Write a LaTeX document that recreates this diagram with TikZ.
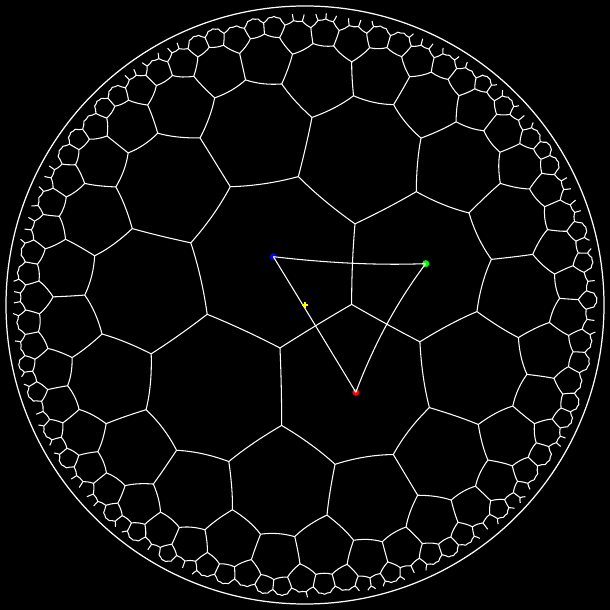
\documentclass[tikz,border=0pt]{standalone}
\usetikzlibrary{positioning}
\definecolor{dotblue}{RGB}{0,0,255}
\definecolor{dotgreen}{RGB}{0,255,0}
\definecolor{dotred}{RGB}{255,0,0}
\definecolor{crossyellow}{RGB}{255,255,0}

\ExplSyntaxOn
% {7,3} tiling in the Poincare disk, seen from the blue cell
\fp_const:Nn \c_hep_cv_fp { cot(pi/7) * cot(pi/3) }
\fp_const:Nn \c_hep_cm_fp { cos(pi/3) / sin(pi/7) }
\fp_const:Nn \c_hep_ev_fp { \c_hep_cv_fp + sqrt(\c_hep_cv_fp^2 - 1) }
\fp_const:Nn \c_hep_em_fp { \c_hep_cm_fp + sqrt(\c_hep_cm_fp^2 - 1) }
\fp_const:Nn \c_hep_tv_fp { (\c_hep_ev_fp - 1) / (\c_hep_ev_fp + 1) }
\fp_const:Nn \c_hep_tm_fp { (\c_hep_em_fp - 1) / (\c_hep_em_fp + 1) }
\fp_const:Nn \c_hep_tc_fp { 2 * \c_hep_tm_fp / (1 + \c_hep_tm_fp^2) }
\fp_const:Nn \c_hep_C_fp { (1 + \c_hep_tm_fp^2) / (1 - \c_hep_tm_fp^2) }
\fp_const:Nn \c_hep_phi_fp { -7.07 }
\fp_const:Nn \c_hep_bx_fp { -0.1056 }
\fp_const:Nn \c_hep_by_fp { 0.1611 }
\fp_const:Nn \c_hep_rho_fp { 0.975 }
\fp_const:Nn \c_hep_rc_fp { 0.985 }
\fp_const:Nn \c_hep_sc_fp { 3 }
% centre of the far side of the triangle of centres
\fp_const:Nn \c_hep_R_fp { ln(\c_hep_ev_fp) }
\fp_const:Nn \c_hep_u_fp { (\c_hep_ev_fp^2 - 1) / (\c_hep_ev_fp^2 + 1) / 2 }
\fp_const:Nn \c_hep_Rx_fp { \c_hep_R_fp + 0.5 * ln((1 + \c_hep_u_fp) / (1 - \c_hep_u_fp)) }
\fp_const:Nn \c_hep_ts_fp { (exp(\c_hep_Rx_fp) - 1) / (exp(\c_hep_Rx_fp) + 1) }

\int_step_inline:nnn { 0 } { 6 }
  {
    \fp_const:cn { c_hep_vx_#1_fp } { \c_hep_tv_fp * cosd(\c_hep_phi_fp + (#1 - 0.5) * 360 / 7) }
    \fp_const:cn { c_hep_vy_#1_fp } { \c_hep_tv_fp * sind(\c_hep_phi_fp + (#1 - 0.5) * 360 / 7) }
    \fp_const:cn { c_hep_mx_#1_fp } { \c_hep_tm_fp * cosd(\c_hep_phi_fp + #1 * 360 / 7) }
    \fp_const:cn { c_hep_my_#1_fp } { \c_hep_tm_fp * sind(\c_hep_phi_fp + #1 * 360 / 7) }
    \fp_const:cn { c_hep_dr_#1_fp } { 2 * \c_hep_tm_fp * sind(\c_hep_phi_fp + #1 * 360 / 7) / (1 - \c_hep_tm_fp^2) }
    \fp_const:cn { c_hep_di_#1_fp } { -2 * \c_hep_tm_fp * cosd(\c_hep_phi_fp + #1 * 360 / 7) / (1 - \c_hep_tm_fp^2) }
    \fp_new:c { l_hep_x_#1_fp }
    \fp_new:c { l_hep_y_#1_fp }
    \tl_new:c { l_hep_in_#1_tl }
  }

\fp_new:N \l_hep_ar_fp \fp_new:N \l_hep_ai_fp
\fp_new:N \l_hep_br_fp \fp_new:N \l_hep_bi_fp
\fp_new:N \l_hep_nr_fp \fp_new:N \l_hep_ni_fp
\fp_new:N \l_hep_dr_fp \fp_new:N \l_hep_di_fp
\fp_new:N \l_hep_dd_fp
\fp_new:N \l_hep_px_fp \fp_new:N \l_hep_py_fp
\fp_new:N \l_hep_car_fp \fp_new:N \l_hep_cai_fp
\fp_new:N \l_hep_cbr_fp \fp_new:N \l_hep_cbi_fp
\fp_new:N \l_hep_cn_fp
\fp_new:N \l_hep_cx_fp \fp_new:N \l_hep_cy_fp
\fp_new:N \l_hep_s_fp
\fp_new:N \l_hep_ux_fp \fp_new:N \l_hep_uy_fp
\fp_new:N \l_hep_wx_fp \fp_new:N \l_hep_wy_fp
\tl_new:N \l_hep_path_tl
\tl_new:N \l_hep_key_tl
\tl_new:N \l_hep_item_tl
\seq_new:N \g_hep_queue_seq

\cs_new:Npn \hep_num:n #1 { \fp_to_decimal:n { round(\c_hep_sc_fp * (#1), 4) } }

% z -> (a z + b) / (conj(b) z + conj(a))
\cs_new_protected:Npn \hep_map:nn #1#2
  {
    \fp_set:Nn \l_hep_nr_fp { \l_hep_ar_fp * (#1) - \l_hep_ai_fp * (#2) + \l_hep_br_fp }
    \fp_set:Nn \l_hep_ni_fp { \l_hep_ar_fp * (#2) + \l_hep_ai_fp * (#1) + \l_hep_bi_fp }
    \fp_set:Nn \l_hep_dr_fp { \l_hep_br_fp * (#1) + \l_hep_bi_fp * (#2) + \l_hep_ar_fp }
    \fp_set:Nn \l_hep_di_fp { \l_hep_br_fp * (#2) - \l_hep_bi_fp * (#1) - \l_hep_ai_fp }
    \fp_set:Nn \l_hep_dd_fp { \l_hep_dr_fp^2 + \l_hep_di_fp^2 }
    \fp_set:Nn \l_hep_px_fp { (\l_hep_nr_fp * \l_hep_dr_fp + \l_hep_ni_fp * \l_hep_di_fp) / \l_hep_dd_fp }
    \fp_set:Nn \l_hep_py_fp { (\l_hep_ni_fp * \l_hep_dr_fp - \l_hep_nr_fp * \l_hep_di_fp) / \l_hep_dd_fp }
  }

\cs_new_protected:Npn \hep_draw:n #1 { \draw[tile] #1 ; }

\cs_new_protected:Npn \hep_edge:nn #1#2
  {
    \int_compare:nNnT { \tl_use:c { l_hep_in_#1_tl } + \tl_use:c { l_hep_in_#2_tl } } = { 2 }
      {
        \hep_map:nn { \use:c { c_hep_mx_#1_fp } } { \use:c { c_hep_my_#1_fp } }
        \tl_put_right:Nx \l_hep_path_tl
          {
            ( \hep_num:n { \use:c { l_hep_x_#1_fp } } , \hep_num:n { \use:c { l_hep_y_#1_fp } } )
            ~..~controls~
            ( \hep_num:n { (4 * \l_hep_px_fp - \use:c { l_hep_x_#2_fp }) / 3 } ,
              \hep_num:n { (4 * \l_hep_py_fp - \use:c { l_hep_y_#2_fp }) / 3 } )
            ~and~
            ( \hep_num:n { (4 * \l_hep_px_fp - \use:c { l_hep_x_#1_fp }) / 3 } ,
              \hep_num:n { (4 * \l_hep_py_fp - \use:c { l_hep_y_#1_fp }) / 3 } )
            ~..~
            ( \hep_num:n { \use:c { l_hep_x_#2_fp } } , \hep_num:n { \use:c { l_hep_y_#2_fp } } ) ~
          }
      }
  }

% neighbour across edge #1 : T o (half turn about edge midpoint)
\cs_new_protected:Npn \hep_child:n #1
  {
    \fp_set:Nn \l_hep_car_fp { - \c_hep_C_fp * \l_hep_ai_fp + \l_hep_br_fp * \use:c { c_hep_dr_#1_fp } + \l_hep_bi_fp * \use:c { c_hep_di_#1_fp } }
    \fp_set:Nn \l_hep_cai_fp { \c_hep_C_fp * \l_hep_ar_fp + \l_hep_bi_fp * \use:c { c_hep_dr_#1_fp } - \l_hep_br_fp * \use:c { c_hep_di_#1_fp } }
    \fp_set:Nn \l_hep_cbr_fp { \l_hep_ar_fp * \use:c { c_hep_dr_#1_fp } - \l_hep_ai_fp * \use:c { c_hep_di_#1_fp } + \c_hep_C_fp * \l_hep_bi_fp }
    \fp_set:Nn \l_hep_cbi_fp { \l_hep_ar_fp * \use:c { c_hep_di_#1_fp } + \l_hep_ai_fp * \use:c { c_hep_dr_#1_fp } - \c_hep_C_fp * \l_hep_br_fp }
    \fp_set:Nn \l_hep_cn_fp { \l_hep_car_fp^2 + \l_hep_cai_fp^2 }
    \fp_set:Nn \l_hep_cx_fp { (\l_hep_cbr_fp * \l_hep_car_fp - \l_hep_cbi_fp * \l_hep_cai_fp) / \l_hep_cn_fp }
    \fp_set:Nn \l_hep_cy_fp { (\l_hep_cbr_fp * \l_hep_cai_fp + \l_hep_cbi_fp * \l_hep_car_fp) / \l_hep_cn_fp }
    \tl_set:Nx \l_hep_key_tl
      { \fp_to_decimal:n { round(\l_hep_cx_fp, 5) } / \fp_to_decimal:n { round(\l_hep_cy_fp, 5) } }
    \cs_if_exist:cF { hep@d@ \l_hep_key_tl }
      {
        \hep_edge:nn { #1 } { \int_eval:n { \int_mod:nn { #1 + 1 } { 7 } } }
        \cs_if_exist:cF { hep@s@ \l_hep_key_tl }
          {
            \fp_compare:nNnT { \l_hep_cx_fp^2 + \l_hep_cy_fp^2 } < { \c_hep_rc_fp^2 }
              {
                \cs_gset:cpn { hep@s@ \l_hep_key_tl } { }
                \seq_gput_right:Nx \g_hep_queue_seq
                  {
                    { \fp_use:N \l_hep_car_fp } { \fp_use:N \l_hep_cai_fp }
                    { \fp_use:N \l_hep_cbr_fp } { \fp_use:N \l_hep_cbi_fp }
                    { \l_hep_key_tl }
                  }
              }
          }
      }
  }

\cs_new_protected:Npn \hep_cell:nnnnn #1#2#3#4#5
  {
    \fp_set:Nn \l_hep_ar_fp { #1 }
    \fp_set:Nn \l_hep_ai_fp { #2 }
    \fp_set:Nn \l_hep_br_fp { #3 }
    \fp_set:Nn \l_hep_bi_fp { #4 }
    \cs_gset:cpn { hep@d@#5 } { }
    \int_step_inline:nnn { 0 } { 6 }
      {
        \hep_map:nn { \use:c { c_hep_vx_##1_fp } } { \use:c { c_hep_vy_##1_fp } }
        \fp_set_eq:cN { l_hep_x_##1_fp } \l_hep_px_fp
        \fp_set_eq:cN { l_hep_y_##1_fp } \l_hep_py_fp
        \fp_compare:nNnTF { \l_hep_px_fp^2 + \l_hep_py_fp^2 } < { \c_hep_rho_fp^2 }
          { \tl_set:cn { l_hep_in_##1_tl } { 1 } }
          { \tl_set:cn { l_hep_in_##1_tl } { 0 } }
      }
    \tl_clear:N \l_hep_path_tl
    \int_step_inline:nnn { 0 } { 6 } { \hep_child:n { ##1 } }
    \tl_if_empty:NF \l_hep_path_tl { \exp_args:NV \hep_draw:n \l_hep_path_tl }
  }

\cs_new_protected:Npn \hep_loop:
  {
    \seq_if_empty:NF \g_hep_queue_seq
      {
        \seq_gpop_left:NN \g_hep_queue_seq \l_hep_item_tl
        \exp_after:wN \hep_cell:nnnnn \l_hep_item_tl
        \hep_loop:
      }
  }

\cs_new_protected:Npn \hep_start:
  {
    \fp_set:Nn \l_hep_s_fp { 1 / sqrt(1 - \c_hep_bx_fp^2 - \c_hep_by_fp^2) }
    \fp_set:Nn \l_hep_ar_fp { \l_hep_s_fp }
    \fp_set:Nn \l_hep_ai_fp { 0 }
    \fp_set:Nn \l_hep_br_fp { \c_hep_bx_fp * \l_hep_s_fp }
    \fp_set:Nn \l_hep_bi_fp { \c_hep_by_fp * \l_hep_s_fp }
  }

\cs_new_protected:Npn \hep_tiling:
  {
    \hep_start:
    \seq_gclear:N \g_hep_queue_seq
    \tl_set:Nx \l_hep_key_tl
      { \fp_to_decimal:n { round(\c_hep_bx_fp, 5) } / \fp_to_decimal:n { round(\c_hep_by_fp, 5) } }
    \cs_gset:cpn { hep@s@ \l_hep_key_tl } { }
    \seq_gput_right:Nx \g_hep_queue_seq
      {
        { \fp_use:N \l_hep_ar_fp } { 0 } { \fp_use:N \l_hep_br_fp } { \fp_use:N \l_hep_bi_fp }
        { \l_hep_key_tl }
      }
    \hep_loop:
  }

\cs_new_protected:Npn \hep_point:nnn #1#2#3
  {
    \hep_map:nn { #2 } { #3 }
    \use:x
      {
        \exp_not:N \coordinate ~ (#1) ~ at ~
        ( \hep_num:n { \l_hep_px_fp } , \hep_num:n { \l_hep_py_fp } ) ;
      }
  }

% control points #1a, #1b of the geodesic from (#2,#3) to (#4,#5) through (#6,#7)
\cs_new_protected:Npn \hep_geo:nnnnnnn #1#2#3#4#5#6#7
  {
    \hep_map:nn { #2 } { #3 }
    \fp_set_eq:NN \l_hep_ux_fp \l_hep_px_fp
    \fp_set_eq:NN \l_hep_uy_fp \l_hep_py_fp
    \hep_map:nn { #4 } { #5 }
    \fp_set_eq:NN \l_hep_wx_fp \l_hep_px_fp
    \fp_set_eq:NN \l_hep_wy_fp \l_hep_py_fp
    \hep_map:nn { #6 } { #7 }
    \use:x
      {
        \exp_not:N \coordinate ~ (#1a) ~ at ~
        ( \hep_num:n { (4 * \l_hep_px_fp - \l_hep_wx_fp) / 3 } ,
          \hep_num:n { (4 * \l_hep_py_fp - \l_hep_wy_fp) / 3 } ) ;
        \exp_not:N \coordinate ~ (#1b) ~ at ~
        ( \hep_num:n { (4 * \l_hep_px_fp - \l_hep_ux_fp) / 3 } ,
          \hep_num:n { (4 * \l_hep_py_fp - \l_hep_uy_fp) / 3 } ) ;
      }
  }

\cs_new_protected:Npn \hep_triangle:
  {
    \hep_start:
    \hep_point:nnn { pb } { 0 } { 0 }
    \hep_point:nnn { pg } { \c_hep_tc_fp * cosd(\c_hep_phi_fp) } { \c_hep_tc_fp * sind(\c_hep_phi_fp) }
    \hep_point:nnn { pr } { \c_hep_tc_fp * cosd(\c_hep_phi_fp - 360/7) } { \c_hep_tc_fp * sind(\c_hep_phi_fp - 360/7) }
    \hep_geo:nnnnnnn { bg } { 0 } { 0 }
      { \c_hep_tc_fp * cosd(\c_hep_phi_fp) } { \c_hep_tc_fp * sind(\c_hep_phi_fp) }
      { \c_hep_tm_fp * cosd(\c_hep_phi_fp) } { \c_hep_tm_fp * sind(\c_hep_phi_fp) }
    \hep_geo:nnnnnnn { gr }
      { \c_hep_tc_fp * cosd(\c_hep_phi_fp) } { \c_hep_tc_fp * sind(\c_hep_phi_fp) }
      { \c_hep_tc_fp * cosd(\c_hep_phi_fp - 360/7) } { \c_hep_tc_fp * sind(\c_hep_phi_fp - 360/7) }
      { \c_hep_ts_fp * cosd(\c_hep_phi_fp - 180/7) } { \c_hep_ts_fp * sind(\c_hep_phi_fp - 180/7) }
    \hep_geo:nnnnnnn { rb }
      { \c_hep_tc_fp * cosd(\c_hep_phi_fp - 360/7) } { \c_hep_tc_fp * sind(\c_hep_phi_fp - 360/7) }
      { 0 } { 0 }
      { \c_hep_tm_fp * cosd(\c_hep_phi_fp - 360/7) } { \c_hep_tm_fp * sind(\c_hep_phi_fp - 360/7) }
  }

\cs_new_eq:NN \hepTiling \hep_tiling:
\cs_new_eq:NN \hepTriangle \hep_triangle:
\ExplSyntaxOff

\begin{document}
\begin{tikzpicture}[
  tile/.style={draw=white, line width=0.3pt},
  rim/.style={draw=white, line width=0.35pt},
  tri/.style={draw=white, line width=0.3pt},
  dot/.style={circle, inner sep=0pt, minimum size=0.07cm},
  crosshair/.style={draw=crossyellow, line width=0.35pt}
]
  \fill[black] (-3.05,-3.05) rectangle (3.05,3.05);
  \draw[rim] (0,0) circle[radius=2.99];
  \hepTiling
  \hepTriangle
  \node[dot, fill=dotblue] (blue) at (pb) {};
  \node[dot, fill=dotgreen] (green) at (pg) {};
  \node[dot, fill=dotred] (red) at (pr) {};
  \draw[tri] (blue.center) .. controls (bga) and (bgb) .. (green.center);
  \draw[tri] (green.center) .. controls (gra) and (grb) .. (red.center);
  \draw[tri] (red.center) .. controls (rba) and (rbb) .. (blue.center);
  \draw[crosshair] (-0.03,0) -- (0.03,0) (0,-0.03) -- (0,0.03);
\end{tikzpicture}
\end{document}
